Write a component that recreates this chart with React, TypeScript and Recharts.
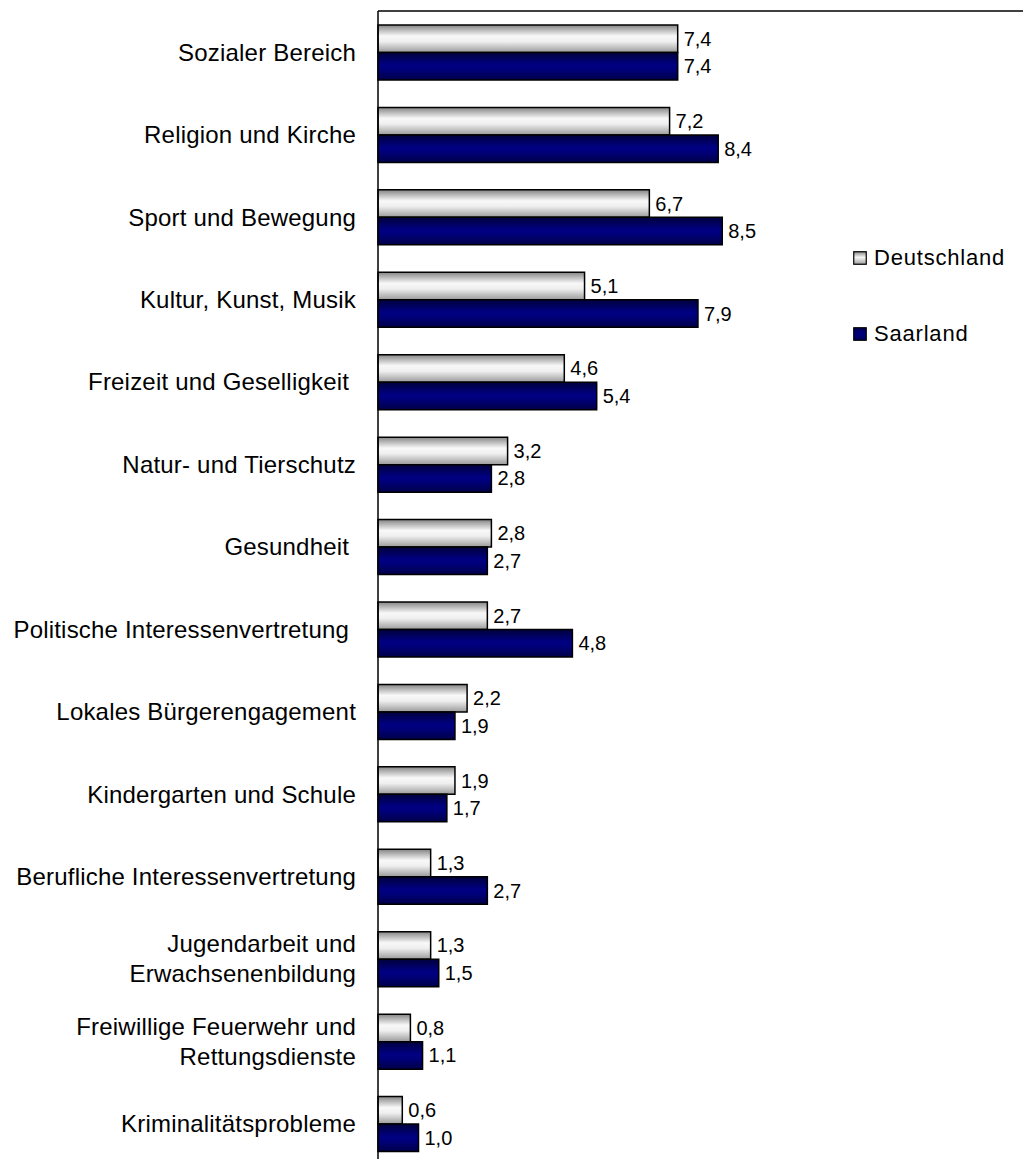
import React from "react";
import { BarChart, Bar, XAxis, YAxis, LabelList, Legend } from "recharts";

const categories = [
  "Sozialer Bereich",
  "Religion und Kirche",
  "Sport und Bewegung",
  "Kultur, Kunst, Musik",
  "Freizeit und Geselligkeit ",
  "Natur- und Tierschutz",
  "Gesundheit ",
  "Politische Interessenvertretung ",
  "Lokales Bürgerengagement",
  "Kindergarten und Schule",
  "Berufliche Interessenvertretung",
  "Jugendarbeit und\nErwachsenenbildung",
  "Freiwillige Feuerwehr und\nRettungsdienste",
  "Kriminalitätsprobleme",
];
const deutschland = [7.4, 7.2, 6.7, 5.1, 4.6, 3.2, 2.8, 2.7, 2.2, 1.9, 1.3, 1.3, 0.8, 0.6];
const saarland = [7.4, 8.4, 8.5, 7.9, 5.4, 2.8, 2.7, 4.8, 1.9, 1.7, 2.7, 1.5, 1.1, 1.0];
const seriesNames = ["Deutschland", "Saarland"];

const data = categories.map((c, i) => ({ name: c, de: deutschland[i], sa: saarland[i] }));

const FONT = "'Liberation Sans', Arial, sans-serif";

const CategoryTick = (props: any) => {
  const { x, y, payload } = props;
  const lines = String(payload.value).split("\n");
  const lh = 30;
  const start = -((lines.length - 1) * lh) / 2;
  return (
    <g>
      {lines.map((l: string, i: number) => (
        <text
          key={i}
          x={x}
          y={y + start + i * lh}
          textAnchor="end"
          dominantBaseline="central"
          fontSize={24}
          fontFamily={FONT}
          fill="#000"
          style={{ whiteSpace: "pre", letterSpacing: 0.2 }}
        >
          {l}
        </text>
      ))}
    </g>
  );
};

const ValueLabel = (props: any) => {
  const { x, y, width, height, value } = props;
  return (
    <text
      x={Number(x) + Number(width) + 6}
      y={Number(y) + Number(height) / 2}
      dominantBaseline="central"
      fontSize={20}
      fontFamily={FONT}
      fill="#000"
    >
      {Number(value).toFixed(1).replace(".", ",")}
    </text>
  );
};

const LegendContent = () => (
  <div style={{ fontFamily: FONT, fontSize: 22, letterSpacing: 0.8, color: "#000" }}>
    {seriesNames.map((n, i) => (
      <div
        key={n}
        style={{ display: "flex", alignItems: "center", height: 20, marginBottom: i === 0 ? 56 : 0 }}
      >
        <svg width={14} height={14} style={{ marginRight: 7 }}>
          <defs>
            <linearGradient id={"legGrad" + i} x1="0" y1="0" x2="0" y2="1">
              {i === 0 ? (
                <>
                  <stop offset="0%" stopColor="#8a8a8a" />
                  <stop offset="45%" stopColor="#f6f6f6" />
                  <stop offset="100%" stopColor="#a0a0a0" />
                </>
              ) : (
                <>
                  <stop offset="0%" stopColor="#000050" />
                  <stop offset="50%" stopColor="#000080" />
                  <stop offset="100%" stopColor="#000055" />
                </>
              )}
            </linearGradient>
          </defs>
          <rect
            x={0.75}
            y={0.75}
            width={12.5}
            height={12.5}
            fill={"url(#legGrad" + i + ")"}
            stroke="#000"
            strokeWidth={1.2}
          />
        </svg>
        <span>{n}</span>
      </div>
    ))}
  </div>
);

export default function App() {
  return (
    <div
      style={{
        position: "fixed",
        top: 0,
        left: 0,
        width: 1023,
        height: 1159,
        overflow: "hidden",
        background: "#fff",
      }}
    >
      <div style={{ position: "absolute", left: 8, top: 8 }}>
        <BarChart
          layout="vertical"
          width={1018}
          height={1157}
          data={data}
          margin={{ top: 2, right: 0, bottom: 0, left: 0 }}
          barGap={0}
          barSize={27.5}
        >
          <defs>
            <linearGradient id="gradGray" x1="0" y1="0" x2="0" y2="1">
              <stop offset="0%" stopColor="#858585" />
              <stop offset="40%" stopColor="#f8f8f8" />
              <stop offset="60%" stopColor="#efefef" />
              <stop offset="100%" stopColor="#9a9a9a" />
            </linearGradient>
            <linearGradient id="gradBlue" x1="0" y1="0" x2="0" y2="1">
              <stop offset="0%" stopColor="#00003c" />
              <stop offset="45%" stopColor="#000082" />
              <stop offset="60%" stopColor="#00007c" />
              <stop offset="100%" stopColor="#000048" />
            </linearGradient>
          </defs>
          <XAxis
            type="number"
            domain={[0, 16]}
            orientation="top"
            height={1}
            tick={false}
            tickLine={false}
            axisLine={{ stroke: "#000", strokeWidth: 1.5 }}
          />
          <YAxis
            type="category"
            dataKey="name"
            width={370}
            interval={0}
            tickSize={0}
            tickMargin={22}
            tickLine={false}
            axisLine={{ stroke: "#000", strokeWidth: 1.5 }}
            tick={<CategoryTick />}
          />
          <Legend
            layout="horizontal"
            verticalAlign="middle"
            align="center"
            content={<LegendContent />}
            wrapperStyle={{ position: "absolute", left: 845, top: 240, width: 170, height: 100 }}
          />
          <Bar
            dataKey="de"
            name={seriesNames[0]}
            fill="url(#gradGray)"
            stroke="#000"
            strokeWidth={1.5}
            isAnimationActive={false}
          >
            <LabelList dataKey="de" content={<ValueLabel />} />
          </Bar>
          <Bar
            dataKey="sa"
            name={seriesNames[1]}
            fill="url(#gradBlue)"
            stroke="#000"
            strokeWidth={1.5}
            isAnimationActive={false}
          >
            <LabelList dataKey="sa" content={<ValueLabel />} />
          </Bar>
        </BarChart>
      </div>
    </div>
  );
}
